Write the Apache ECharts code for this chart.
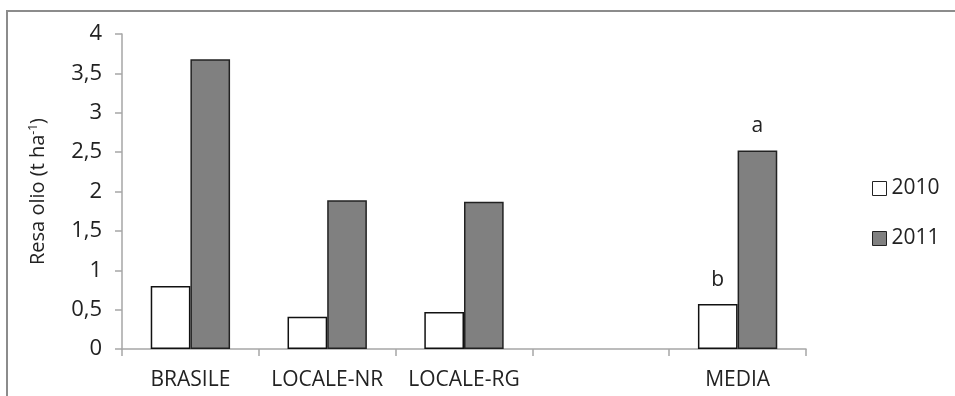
<!DOCTYPE html>
<html><head><meta charset="utf-8">
<script src="https://cdn.jsdelivr.net/npm/echarts@6/dist/echarts.min.js"></script>
<style>html,body{margin:0;padding:0;background:#fff}#c{width:955px;height:396px}</style>
</head><body><div id="c"></div>
<script>
var categories = ['BRASILE', 'LOCALE-NR', 'LOCALE-RG', '', 'MEDIA'];
var values2010 = [0.80, 0.41, 0.47, null, 0.57];
var values2011 = [3.68, 1.89, 1.87, null, 2.52];
var letters2010 = ['', '', '', '', 'b'];
var letters2011 = ['', '', '', '', 'a'];
var seriesNames = ['2010', '2011'];

var FONT = 'Open Sans';
function build(vals, letters) {
  return vals.map(function (v, i) {
    return {
      value: v,
      label: { show: !!letters[i], formatter: letters[i], position: 'top', distance: 14,
               fontSize: 21, color: '#222', fontFamily: FONT }
    };
  });
}
var chart = echarts.init(document.getElementById('c'));
chart.setOption({
  animation: false,
  backgroundColor: '#fff',
  graphic: [{ type: 'rect', shape: { x: 7, y: 11, width: 960, height: 400 },
              style: { fill: 'none', stroke: '#8c8c8c', lineWidth: 2 }, silent: true }],
  grid: { left: 122, right: 149, top: 34, bottom: 47 },
  legend: {
    orient: 'vertical', left: 867, top: 173, itemWidth: 14, itemHeight: 14, itemGap: 29,
    itemTextGap: 7, icon: 'rect',
    data: seriesNames,
    textStyle: { fontSize: 21, lineHeight: 20, color: '#222', fontFamily: FONT },
    itemStyle: { borderColor: '#222', borderWidth: 1 }
  },
  xAxis: {
    type: 'category', data: categories,
    axisLine: { lineStyle: { color: '#a6a6a6', width: 1.5 } },
    axisTick: { show: true, length: 7, lineStyle: { color: '#a6a6a6', width: 1.5 } },
    axisLabel: { fontSize: 21, color: '#222', margin: 21, fontFamily: FONT, interval: 0 }
  },
  yAxis: {
    type: 'value', min: 0, max: 4, interval: 0.5,
    name: 'Resa olio (t ha{sup|-1})', nameLocation: 'middle', nameGap: 73, nameRotate: 90,
    nameTextStyle: { fontSize: 20, color: '#222', fontFamily: FONT,
      rich: { sup: { fontSize: 12, verticalAlign: 'top', color: '#222', fontFamily: FONT, padding: [0, 0, 9, 0] } } },
    splitLine: { show: false },
    axisLine: { show: true, lineStyle: { color: '#a6a6a6', width: 1.5 } },
    axisTick: { show: true, length: 7, lineStyle: { color: '#a6a6a6', width: 1.5 } },
    axisLabel: { fontSize: 22, color: '#222', margin: 20, fontFamily: FONT,
      formatter: function (v) { return String(v).replace('.', ','); } }
  },
  series: [
    { name: seriesNames[0], type: 'bar', data: build(values2010, letters2010), barGap: '0%', barCategoryGap: '42%',
      itemStyle: { color: '#ffffff', borderColor: '#111', borderWidth: 1.5 } },
    { name: seriesNames[1], type: 'bar', data: build(values2011, letters2011), barGap: '0%', barCategoryGap: '42%',
      itemStyle: { color: '#808080', borderColor: '#222', borderWidth: 1.5 } }
  ]
});
</script></body></html>
